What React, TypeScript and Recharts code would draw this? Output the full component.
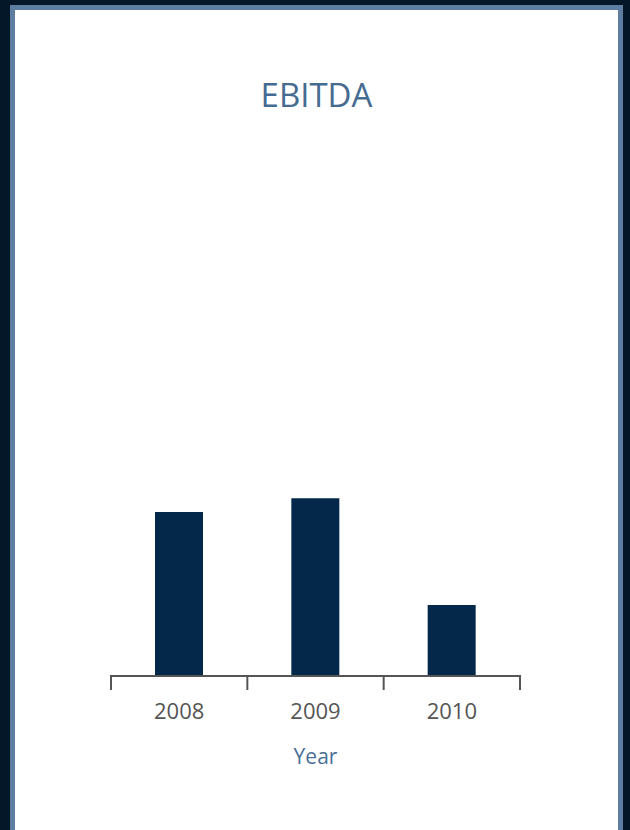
import { BarChart, Bar, XAxis, YAxis, Label } from 'recharts'

const years = ['2008', '2009', '2010']
const ebitda = [31.2, 33.8, 13.5]

const data = years.map((year, i) => ({ year, ebitda: ebitda[i] }))

const FONT = '"Open Sans", "Noto Sans", sans-serif'
const AXIS = '#555'

// category label at the band centre, tick marks on the band edges
function YearTick(props: any) {
  const { x, y, payload, index, visibleTicksCount } = props
  const half = payload.offset ?? 0
  const axisY = y - 26
  const isLast = index === visibleTicksCount - 1
  return (
    <g>
      <line x1={x - half} x2={x - half} y1={axisY - 1} y2={axisY + 14} stroke={AXIS} strokeWidth={2} />
      {isLast && (
        <line x1={x + half} x2={x + half} y1={axisY - 1} y2={axisY + 14} stroke={AXIS} strokeWidth={2} />
      )}
      <text x={x} y={y + 17} textAnchor="middle" fill={AXIS} fontSize={22} fontFamily={FONT}>
        {payload.value}
      </text>
    </g>
  )
}

export default function App() {
  return (
    <div
      style={{
        position: 'fixed',
        left: 0,
        top: 0,
        width: 630,
        height: 830,
        background: '#031729',
        overflow: 'hidden',
        fontFamily: FONT,
      }}
    >
      {/* framed white panel */}
      <div
        style={{
          position: 'absolute',
          left: 10,
          top: 5,
          width: 603,
          height: 900,
          border: '5px solid #5e7ea1',
          background: '#fff',
        }}
      />
      <div
        style={{
          position: 'absolute',
          left: 0,
          top: 78,
          width: 633,
          textAlign: 'center',
          fontSize: 33,
          lineHeight: '33px',
          color: '#466b91',
        }}
      >
        EBITDA
      </div>
      <div style={{ position: 'absolute', left: 1, top: 0 }}>
        <BarChart
          width={630}
          height={830}
          data={data}
          margin={{ top: 150, right: 111, bottom: 124, left: 110 }}
          barCategoryGap={44}
        >
          <YAxis hide domain={[0, 100]} />
          <XAxis
            dataKey="year"
            height={30}
            axisLine={{ stroke: AXIS, strokeWidth: 2 }}
            tickLine={false}
            tickSize={14}
            tickMargin={12}
            tick={<YearTick />}
            interval={0}
          >
            <Label
              value="Year"
              position="insideBottom"
              offset={-58}
              fill="#4a6f96"
              fontSize={21}
              fontFamily={FONT}
            />
          </XAxis>
          <Bar dataKey="ebitda" fill="#03284a" isAnimationActive={false} />
        </BarChart>
      </div>
    </div>
  )
}
